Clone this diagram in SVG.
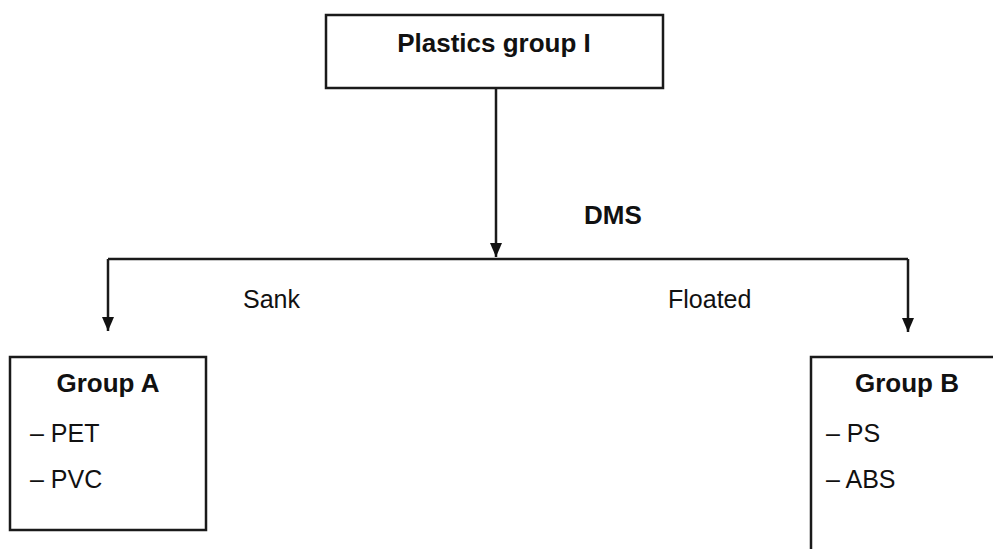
<svg xmlns="http://www.w3.org/2000/svg" width="993" height="549" viewBox="0 0 993 549">
<defs>
<style>
.box{fill:#fff;stroke:#1a1a1a;stroke-width:2.5}
.line{fill:none;stroke:#1a1a1a;stroke-width:2.5}
.b{font-family:"Liberation Sans",Arial,sans-serif;font-weight:bold;font-size:26px;fill:#111}
.r{font-family:"Liberation Sans",Arial,sans-serif;font-size:25px;fill:#111}
</style>
<marker id="ah" viewBox="0 0 14 12" refX="14" refY="6" markerWidth="14" markerHeight="12" markerUnits="userSpaceOnUse" orient="auto">
<path d="M0,0 L14,6 L0,12 Z" fill="#111"/>
</marker>
</defs>
<rect width="993" height="549" fill="#fff"/>
<g id="connectors">
<path class="line" d="M496,88 V257" marker-end="url(#ah)"/>
<path class="line" d="M108,259 H908"/>
<path class="line" d="M108,259 V331" marker-end="url(#ah)"/>
<path class="line" d="M908,259 V332" marker-end="url(#ah)"/>
<text class="b" x="584" y="224">DMS</text>
<text class="r" x="243" y="308">Sank</text>
<text class="r" x="668" y="308">Floated</text>
</g>
<g id="plastics">
<rect class="box" x="326" y="15" width="337" height="73"/>
<text class="b" x="494" y="52" text-anchor="middle">Plastics group I</text>
</g>
<g id="groupA">
<rect class="box" x="10" y="357" width="196" height="173"/>
<text class="b" x="108" y="392" text-anchor="middle">Group A</text>
<text class="r" x="30" y="442">– PET</text>
<text class="r" x="30" y="488">– PVC</text>
</g>
<g id="groupB">
<rect class="box" x="811" y="357" width="220" height="230"/>
<text class="b" x="855" y="392">Group B</text>
<text class="r" x="826" y="442">– PS</text>
<text class="r" x="826" y="488">– ABS</text>
</g>
</svg>
